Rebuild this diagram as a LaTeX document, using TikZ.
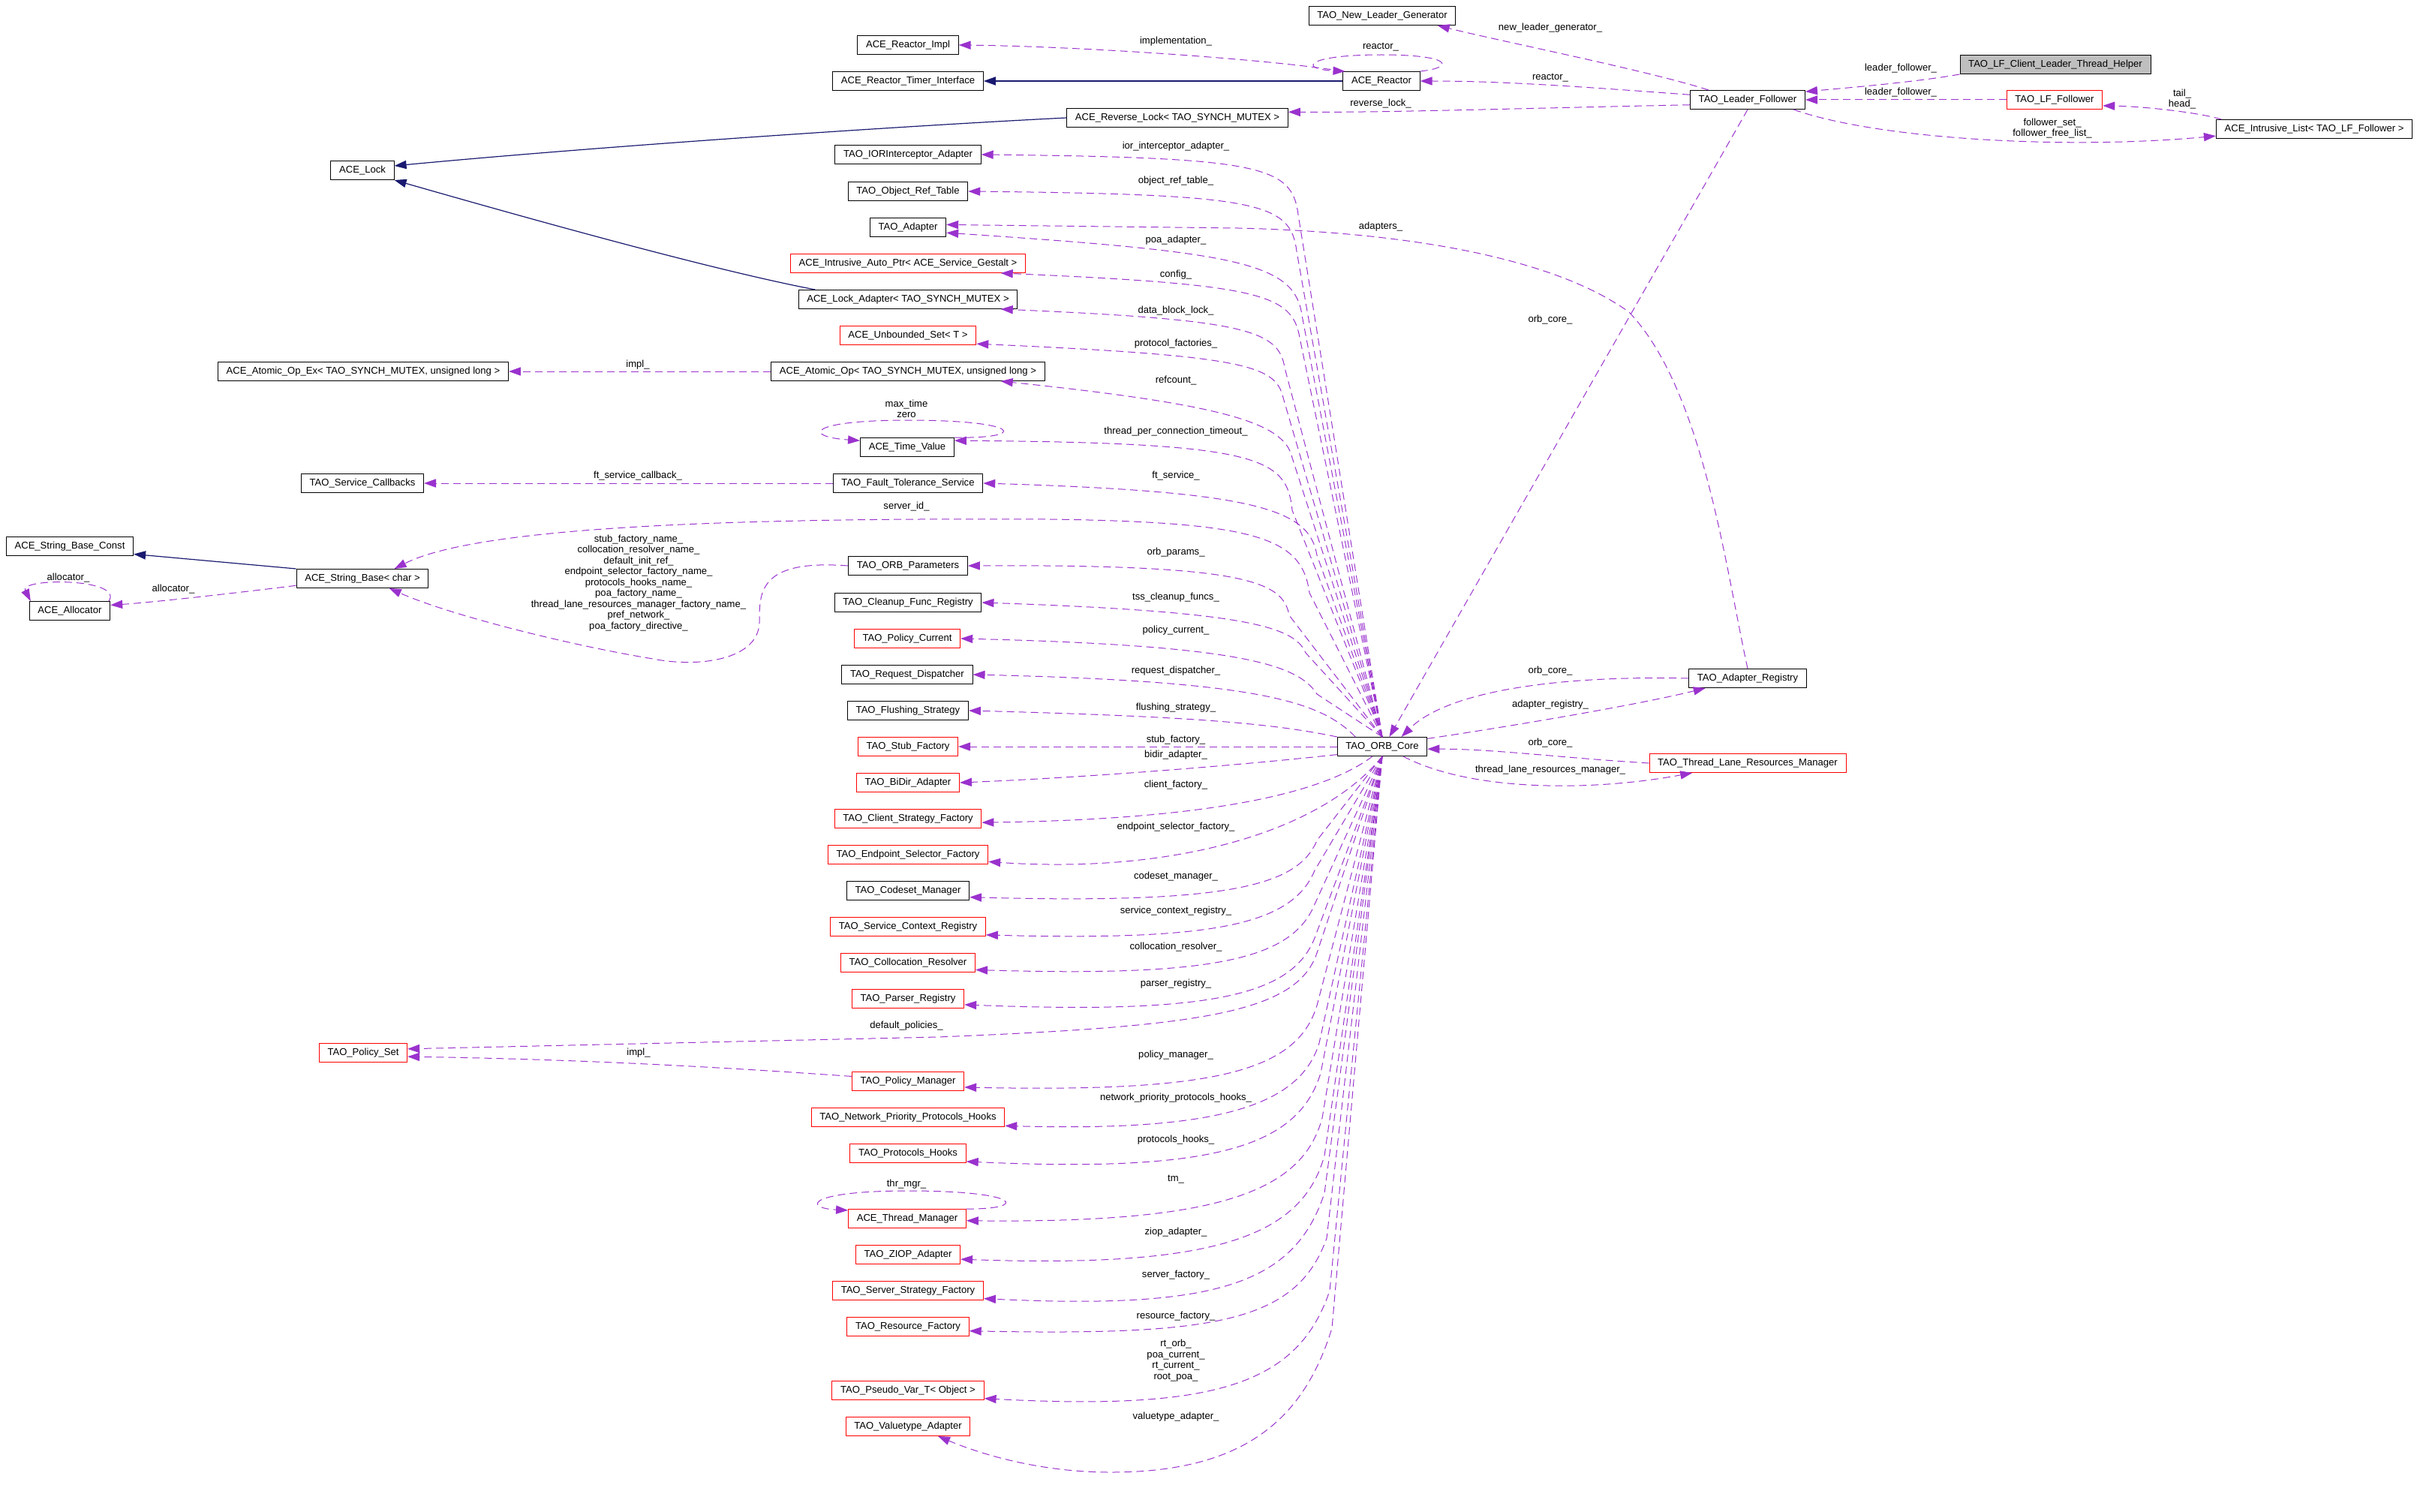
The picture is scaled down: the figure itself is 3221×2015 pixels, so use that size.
\documentclass[tikz,border=0pt]{standalone}
\usepackage{fontspec}
\setmainfont{Liberation Sans}
\usepackage{xcolor}
\usepackage{tikz}
\usetikzlibrary{arrows.meta}
\definecolor{mempurple}{HTML}{9A32CD}
\definecolor{inhnavy}{HTML}{191970}

\begin{document}
\begin{tikzpicture}[x=0.25mm,y=-0.25mm,font=\fontsize{9.3}{10.3}\selectfont,
    cls/.style={draw=black,line width=0.25mm,minimum height=6.25mm,inner xsep=2.8mm,inner ysep=0pt},
    trunc/.style={cls,draw=red},
    focus/.style={cls,fill=black!25},
    lbl/.style={inner sep=0pt,align=center},
    mem/.style={draw=mempurple,line width=0.25mm,dash pattern=on 2.5mm off 1.5mm,-{Triangle[length=4mm,width=2.8mm]}},
    inh/.style={draw=inhnavy,line width=0.3mm,-{Triangle[length=4mm,width=2.8mm]}}]
      \useasboundingbox (0,0) rectangle (3221,2015);

      \node[cls] (core) at (1842,995) {TAO\_ORB\_Core};
      \node[cls] (newleader) at (1842,21) {TAO\_New\_Leader\_Generator};
      \node[cls] (reactor) at (1841,108) {ACE\_Reactor};
      \node[cls] (lf) at (2329,133) {TAO\_Leader\_Follower};
      \node[focus] (helper) at (2739,86) {TAO\_LF\_Client\_Leader\_Thread\_Helper};
      \node[trunc] (follower) at (2738,133) {TAO\_LF\_Follower};
      \node[cls] (ilist) at (3084,172) {ACE\_Intrusive\_List< TAO\_LF\_Follower >};
      \node[cls] (adreg) at (2329,904) {TAO\_Adapter\_Registry};
      \node[trunc] (tlrm) at (2329,1017) {TAO\_Thread\_Lane\_Resources\_Manager};

      \node[cls] (lock) at (483,227) {ACE\_Lock};
      \node[cls] (atomicex) at (484,495) {ACE\_Atomic\_Op\_Ex< TAO\_SYNCH\_MUTEX, unsigned long >};
      \node[cls] (callbacks) at (483,644) {TAO\_Service\_Callbacks};
      \node[cls] (strconst) at (93,728) {ACE\_String\_Base\_Const};
      \node[cls] (string) at (483,771) {ACE\_String\_Base< char >};
      \node[cls] (alloc) at (93,814) {ACE\_Allocator};
      \node[trunc] (polset) at (484,1403) {TAO\_Policy\_Set};

      \node[cls] (reactimpl) at (1210,60) {ACE\_Reactor\_Impl};
      \node[cls] (timer) at (1210,108) {ACE\_Reactor\_Timer\_Interface};
      \node[cls] (revlock) at (1569,157) {ACE\_Reverse\_Lock< TAO\_SYNCH\_MUTEX >};
      \node[cls] (iorint) at (1210,206) {TAO\_IORInterceptor\_Adapter};
      \node[cls] (objref) at (1210,255) {TAO\_Object\_Ref\_Table};
      \node[cls] (adapter) at (1210,303) {TAO\_Adapter};
      \node[trunc] (autoptr) at (1210,351) {ACE\_Intrusive\_Auto\_Ptr< ACE\_Service\_Gestalt >};
      \node[cls] (lockad) at (1210,399) {ACE\_Lock\_Adapter< TAO\_SYNCH\_MUTEX >};
      \node[trunc] (uset) at (1210,447) {ACE\_Unbounded\_Set< T >};
      \node[cls] (atomic) at (1210,495) {ACE\_Atomic\_Op< TAO\_SYNCH\_MUTEX, unsigned long >};
      \node[cls] (time) at (1209,596) {ACE\_Time\_Value};
      \node[cls] (ft) at (1210,644) {TAO\_Fault\_Tolerance\_Service};
      \node[cls] (params) at (1210,754) {TAO\_ORB\_Parameters};
      \node[cls] (cleanup) at (1210,803) {TAO\_Cleanup\_Func\_Registry};
      \node[trunc] (polcur) at (1209,851) {TAO\_Policy\_Current};
      \node[cls] (reqdisp) at (1209,899) {TAO\_Request\_Dispatcher};
      \node[cls] (flush) at (1210,947) {TAO\_Flushing\_Strategy};
      \node[trunc] (stub) at (1210,995) {TAO\_Stub\_Factory};
      \node[trunc] (bidir) at (1210,1043) {TAO\_BiDir\_Adapter};
      \node[trunc] (client) at (1210,1091) {TAO\_Client\_Strategy\_Factory};
      \node[trunc] (endpoint) at (1210,1139) {TAO\_Endpoint\_Selector\_Factory};
      \node[cls] (codeset) at (1210,1187) {TAO\_Codeset\_Manager};
      \node[trunc] (svcctx) at (1210,1235) {TAO\_Service\_Context\_Registry};
      \node[trunc] (colloc) at (1210,1283) {TAO\_Collocation\_Resolver};
      \node[trunc] (parser) at (1210,1331) {TAO\_Parser\_Registry};
      \node[trunc] (polmgr) at (1210,1441) {TAO\_Policy\_Manager};
      \node[trunc] (netprio) at (1210,1489) {TAO\_Network\_Priority\_Protocols\_Hooks};
      \node[trunc] (prothooks) at (1210,1537) {TAO\_Protocols\_Hooks};
      \node[trunc] (thrmgr) at (1209,1624) {ACE\_Thread\_Manager};
      \node[trunc] (ziop) at (1210,1672) {TAO\_ZIOP\_Adapter};
      \node[trunc] (server) at (1210,1720) {TAO\_Server\_Strategy\_Factory};
      \node[trunc] (resource) at (1210,1768) {TAO\_Resource\_Factory};
      \node[trunc] (pseudo) at (1210,1853) {TAO\_Pseudo\_Var\_T< Object >};
      \node[trunc] (valuetype) at (1210,1901) {TAO\_Valuetype\_Adapter};

      \draw[inh] (reactor.west) -- (timer.east);
      \draw[inh] (revlock.west) .. controls (1200,168) and (800,195) .. (lock.8);
      \draw[inh] (lockad.174) .. controls (950,360) and (700,290) .. (lock.south east);
      \draw[inh] (string.north west) -- (strconst.-7);

      \draw[mem] (reactor.north east) .. controls (1940,90) and (1935,73) .. (1841,73) .. controls (1740,73) and (1730,92) .. (reactor.165);
      \draw[mem] (reactor.north west) .. controls (1700,80) and (1450,62) .. (reactimpl.east);
      \draw[mem] (lf.166) .. controls (2200,95) and (2000,55) .. (newleader.-10);
      \draw[mem] (lf.175) .. controls (2100,115) and (2000,108) .. (reactor.east);
      \draw[mem] (lf.185) .. controls (2000,145) and (1850,150) .. (revlock.3);
      \draw[mem] (helper.south west) .. controls (2550,110) and (2450,118) .. (lf.8);
      \draw[mem] (follower.west) -- (lf.east);
      \draw[mem] (ilist.174) .. controls (2930,150) and (2860,142) .. (follower.-7);
      \draw[mem] (lf.-12) .. controls (2500,185) and (2750,200) .. (ilist.184);
      \draw[mem] (lf.south) -- (core.54);
      \draw[mem] (adreg.west) .. controls (2080,900) and (1930,920) .. (core.27);
      \draw[mem] (core.10) .. controls (2000,970) and (2180,940) .. (adreg.193);
      \draw[mem] (tlrm.west) .. controls (2080,1010) and (1990,998) .. (core.-3);
      \draw[mem] (core.-25) .. controls (1960,1055) and (2120,1055) .. (tlrm.190);
      \draw[mem] (adreg.north) .. controls (2300,760) and (2270,520) .. (2171,416) .. controls (2080,350) and (1900,310) .. (1650,304) -- (adapter.4);

      \draw[mem] (atomic.west) -- (atomicex.east);
      \draw[mem] (ft.west) -- (callbacks.east);
      \draw[mem] (string.186) .. controls (300,792) and (200,803) .. (alloc.8);
      \draw[mem] (alloc.14) .. controls (165,770) and (25,770) .. (alloc.166);
      \draw[mem] (time.north east) .. controls (1370,585) and (1365,560) .. (1210,560) .. controls (1075,560) and (1070,582) .. (time.172);
      \draw[mem] (thrmgr.north east) .. controls (1370,1612) and (1365,1587) .. (1210,1587) .. controls (1075,1587) and (1070,1610) .. (thrmgr.172);
      \draw[mem] (polmgr.175) .. controls (1000,1425) and (800,1412) .. (polset.-5);
      \draw[mem] (params.west) .. controls (1010,745) and (1012,790) .. (1012,830) .. controls (1010,880) and (930,890) .. (870,878) .. controls (760,860) and (600,820) .. (string.-20);
      \draw[mem] (core.north) -- (1745,790) .. controls (1735,718) and (1680,696) .. (1400,692) .. controls (1000,690) and (640,700) .. (string.17);

      \draw[mem] (core.north) -- (1730,286) .. controls (1722,221) and (1680,210) .. (iorint.east);
      \draw[mem] (core.north) -- (1728,335) .. controls (1720,270) and (1678,259) .. (objref.east);
      \draw[mem] (core.north) -- (1735,420) .. controls (1725,350) and (1650,336) .. (adapter.-8);
      \draw[mem] (core.north) -- (1732,450) .. controls (1722,392) and (1680,379) .. (autoptr.-6);
      \draw[mem] (core.north) -- (1712,490) .. controls (1704,440) and (1660,426) .. (lockad.-6);
      \draw[mem] (core.north) -- (1710,530) .. controls (1700,487) and (1660,474) .. (uset.-7);
      \draw[mem] (core.north) -- (1722,610) .. controls (1712,565) and (1640,540) .. (atomic.-6);
      \draw[mem] (core.north) -- (1722,680) .. controls (1715,610) and (1680,590) .. (time.8);
      \draw[mem] (core.north) -- (1755,740) .. controls (1745,680) and (1680,655) .. (ft.east);
      \draw[mem] (core.north) -- (1718,820) .. controls (1710,775) and (1660,752) .. (params.east);
      \draw[mem] (core.north) -- (1740,870) .. controls (1725,835) and (1660,815) .. (cleanup.east);
      \draw[mem] (core.north) -- (1755,925) .. controls (1730,885) and (1650,860) .. (polcur.east);
      \draw[mem] (core.160) .. controls (1760,935) and (1680,908) .. (reqdisp.east);
      \draw[mem] (core.north west) .. controls (1700,965) and (1600,955) .. (flush.east);
      \draw[mem] (core.west) -- (stub.east);
      \draw[mem] (core.190) .. controls (1650,1020) and (1450,1036) .. (bidir.east);
      \draw[mem] (core.225) .. controls (1760,1060) and (1600,1092) .. (client.-3);
      \draw[mem] (core.south) .. controls (1760,1110) and (1560,1165) .. (endpoint.-5);
      \draw[mem] (core.south) -- (1755,1120) .. controls (1730,1180) and (1640,1205) .. (codeset.-6);
      \draw[mem] (core.south) -- (1752,1160) .. controls (1722,1232) and (1620,1254) .. (svcctx.-6);
      \draw[mem] (core.south) -- (1752,1205) .. controls (1722,1278) and (1620,1302) .. (colloc.-6);
      \draw[mem] (core.south) -- (1752,1250) .. controls (1722,1325) and (1620,1352) .. (parser.-6);
      \draw[mem] (core.south) -- (1755,1270) .. controls (1728,1350) and (1600,1368) .. (1250,1382) -- (polset.5);
      \draw[mem] (core.south) -- (1755,1340) .. controls (1728,1428) and (1620,1456) .. (polmgr.-6);
      \draw[mem] (core.south) -- (1758,1390) .. controls (1732,1475) and (1620,1508) .. (netprio.-5);
      \draw[mem] (core.south) -- (1760,1430) .. controls (1730,1528) and (1620,1563) .. (prothooks.-8);
      \draw[mem] (core.south) -- (1762,1490) .. controls (1735,1590) and (1620,1630) .. (thrmgr.-2);
      \draw[mem] (core.south) -- (1765,1540) .. controls (1735,1648) and (1620,1690) .. (ziop.-5);
      \draw[mem] (core.south) -- (1765,1590) .. controls (1725,1712) and (1620,1745) .. (server.-6);
      \draw[mem] (core.south) -- (1768,1650) .. controls (1728,1762) and (1620,1780) .. (resource.-4);
      \draw[mem] (core.south) -- (1772,1720) .. controls (1730,1845) and (1620,1880) .. (pseudo.-6);
      \draw[mem] (core.south) -- (1775,1770) .. controls (1738,1890) and (1660,1962) .. (1480,1962) .. controls (1380,1962) and (1300,1935) .. (valuetype.-18);

      \node[lbl] (l-impl) at (1567,55) {implementation\_};
      \node[lbl] (l-reactorloop) at (1840,63) {reactor\_};
      \node[lbl] (l-newleader) at (2066,37) {new\_leader\_generator\_};
      \node[lbl] (l-reactor) at (2066,104) {reactor\_};
      \node[lbl] (l-revlock) at (1840,138) {reverse\_lock\_};
      \node[lbl] (l-helper) at (2533,91) {leader\_follower\_};
      \node[lbl] (l-follower) at (2533,123) {leader\_follower\_};
      \node[lbl] (l-tailhead) at (2908,132) {tail\_\\head\_};
      \node[lbl] (l-followerset) at (2735,171) {follower\_set\_\\follower\_free\_list\_};
      \node[lbl] (l-lfcore) at (2066,426) {orb\_core\_};
      \node[lbl] (l-adapters) at (1840,302) {adapters\_};
      \node[lbl] (l-adregcore) at (2066,894) {orb\_core\_};
      \node[lbl] (l-adreg) at (2066,939) {adapter\_registry\_};
      \node[lbl] (l-tlrmcore) at (2066,990) {orb\_core\_};
      \node[lbl] (l-tlrm) at (2066,1026) {thread\_lane\_resources\_manager\_};

      \node[lbl] (l-atomicimpl) at (850,486) {impl\_};
      \node[lbl] (l-ftcb) at (850,634) {ft\_service\_callback\_};
      \node[lbl] (l-allocloop) at (91,770) {allocator\_};
      \node[lbl] (l-alloc) at (231,785) {allocator\_};
      \node[lbl] (l-names) at (851,777) {stub\_factory\_name\_\\collocation\_resolver\_name\_\\default\_init\_ref\_\\endpoint\_selector\_factory\_name\_\\protocols\_hooks\_name\_\\poa\_factory\_name\_\\thread\_lane\_resources\_manager\_factory\_name\_\\pref\_network\_\\poa\_factory\_directive\_};
      \node[lbl] (l-polsetimpl) at (851,1403) {impl\_};
      \node[lbl] (l-time) at (1208,545) {max\_time\\zero};
      \node[lbl] (l-serverid) at (1208,675) {server\_id\_};
      \node[lbl] (l-defpol) at (1208,1367) {default\_policies\_};
      \node[lbl] (l-thrmgr) at (1208,1578) {thr\_mgr\_};

      \node[lbl] (l-ior) at (1567,195) {ior\_interceptor\_adapter\_};
      \node[lbl] (l-objref) at (1567,241) {object\_ref\_table\_};
      \node[lbl] (l-poa) at (1567,320) {poa\_adapter\_};
      \node[lbl] (l-config) at (1567,366) {config\_};
      \node[lbl] (l-dblock) at (1567,414) {data\_block\_lock\_};
      \node[lbl] (l-protfac) at (1567,458) {protocol\_factories\_};
      \node[lbl] (l-refcount) at (1567,507) {refcount\_};
      \node[lbl] (l-tpct) at (1567,575) {thread\_per\_connection\_timeout\_};
      \node[lbl] (l-ft) at (1567,634) {ft\_service\_};
      \node[lbl] (l-params) at (1567,736) {orb\_params\_};
      \node[lbl] (l-cleanup) at (1567,796) {tss\_cleanup\_funcs\_};
      \node[lbl] (l-polcur) at (1567,840) {policy\_current\_};
      \node[lbl] (l-reqdisp) at (1567,894) {request\_dispatcher\_};
      \node[lbl] (l-flush) at (1567,943) {flushing\_strategy\_};
      \node[lbl] (l-stub) at (1567,986) {stub\_factory\_};
      \node[lbl] (l-bidir) at (1567,1006) {bidir\_adapter\_};
      \node[lbl] (l-client) at (1567,1046) {client\_factory\_};
      \node[lbl] (l-endpoint) at (1567,1102) {endpoint\_selector\_factory\_};
      \node[lbl] (l-codeset) at (1567,1168) {codeset\_manager\_};
      \node[lbl] (l-svcctx) at (1567,1214) {service\_context\_registry\_};
      \node[lbl] (l-colloc) at (1567,1262) {collocation\_resolver\_};
      \node[lbl] (l-parser) at (1567,1311) {parser\_registry\_};
      \node[lbl] (l-polmgr) at (1567,1406) {policy\_manager\_};
      \node[lbl] (l-netprio) at (1567,1463) {network\_priority\_protocols\_hooks\_};
      \node[lbl] (l-prothooks) at (1567,1519) {protocols\_hooks\_};
      \node[lbl] (l-tm) at (1567,1572) {tm\_};
      \node[lbl] (l-ziop) at (1567,1642) {ziop\_adapter\_};
      \node[lbl] (l-server) at (1567,1699) {server\_factory\_};
      \node[lbl] (l-resource) at (1567,1754) {resource\_factory\_};
      \node[lbl] (l-pseudo) at (1567,1813) {rt\_orb\_\\poa\_current\_\\rt\_current\_\\root\_poa\_};
      \node[lbl] (l-valuetype) at (1567,1888) {valuetype\_adapter\_};
    \end{tikzpicture}
\end{document}
